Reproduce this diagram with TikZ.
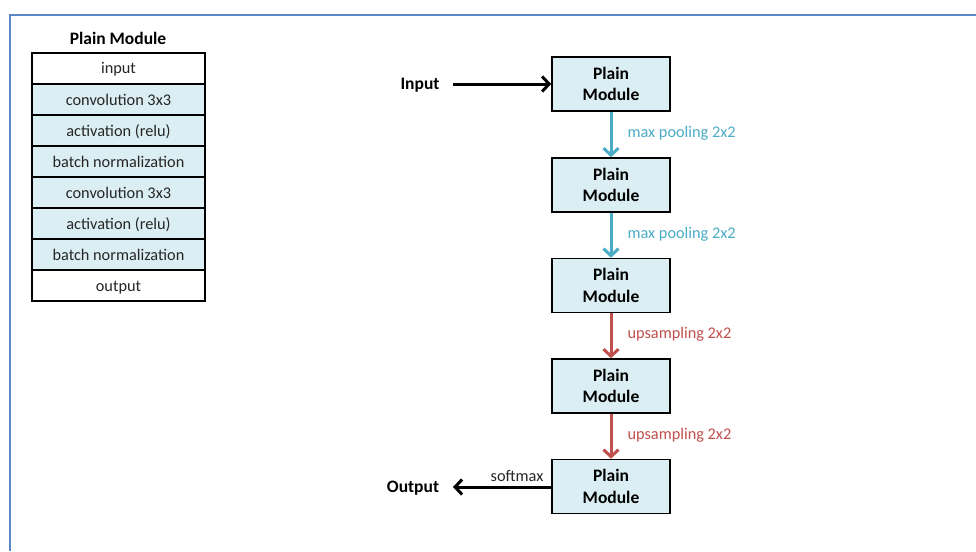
\documentclass[tikz,border=0pt]{standalone}
\usepackage{fontspec}
\setmainfont{Carlito}
\usetikzlibrary{arrows.meta}
\definecolor{frameblue}{HTML}{5B87C5}
\definecolor{cellfill}{HTML}{DBEEF3}
\definecolor{poolblue}{HTML}{4BACC6}
\definecolor{upred}{HTML}{C0504D}
\definecolor{txtgray}{HTML}{262626}
\tikzset{
  x=1pt, y=-1pt,
  cell/.style={draw=black, line width=1.6pt, minimum width=173pt, minimum height=31pt, inner sep=0pt, text height=13pt, text depth=2pt, font=\fontsize{16.3}{18}\selectfont, text=txtgray},
  modbox/.style={draw=black, line width=1.6pt, fill=cellfill, minimum width=118pt, minimum height=54pt, inner sep=0pt, align=center, font=\fontsize{17.5}{21.5}\selectfont\bfseries},
  blackarrow/.style={draw=black, line width=3pt, -{Straight Barb[length=7pt,width=15pt]}},
  poolarrow/.style={draw=poolblue, line width=3pt, -{Straight Barb[length=7pt,width=15pt]}},
  uparrow/.style={draw=upred, line width=3pt, -{Straight Barb[length=7pt,width=15pt]}},
  poollabel/.style={text=poolblue, anchor=west, font=\fontsize{16.3}{18}\selectfont},
  uplabel/.style={text=upred, anchor=west, font=\fontsize{16.3}{18}\selectfont},
  iolabel/.style={font=\fontsize{17.5}{20}\selectfont\bfseries, text height=12.5pt, text depth=3pt},
}
\begin{document}
\begin{tikzpicture}
\useasboundingbox (0,0) rectangle (976,551);
\fill[white] (0,0) rectangle (976,551);
% frame
\draw[frameblue, line width=2pt] (976,15) -- (10,15) -- (10,551);
% left table
\node[font=\fontsize{17.5}{20}\selectfont\bfseries] (title) at (118,38) {Plain Module};
\node[cell, fill=white] (c1) at (118.5,68.5) {input};
\node[cell, fill=cellfill] (c2) at (118.5,99.5) {convolution 3x3};
\node[cell, fill=cellfill] (c3) at (118.5,130.5) {activation (relu)};
\node[cell, fill=cellfill] (c4) at (118.5,161.5) {batch normalization};
\node[cell, fill=cellfill] (c5) at (118.5,192.5) {convolution 3x3};
\node[cell, fill=cellfill] (c6) at (118.5,223.5) {activation (relu)};
\node[cell, fill=cellfill] (c7) at (118.5,254.5) {batch normalization};
\node[cell, fill=white] (c8) at (118.5,285.5) {output};
% right chain
\node[modbox] (m1) at (611,84) {Plain\\Module};
\node[modbox] (m2) at (611,185) {Plain\\Module};
\node[modbox] (m3) at (611,285.5) {Plain\\Module};
\node[modbox] (m4) at (611,386) {Plain\\Module};
\node[modbox] (m5) at (611,486.5) {Plain\\Module};
\node[iolabel] (in) at (420,85) {Input};
\node[iolabel] (out) at (413,488) {Output};
\coordinate (inend) at (453,84);
\coordinate (outend) at (453,487);
\draw[blackarrow] (inend) -- (m1.west);
\draw[blackarrow] (m5.west |- outend) -- (outend);
\node[font=\fontsize{16.3}{18}\selectfont, text=txtgray] (sm) at (517,476) {softmax};
\draw[poolarrow] (m1.south) -- (m2.north);
\draw[poolarrow] (m2.south) -- (m3.north);
\draw[uparrow] (m3.south) -- (m4.north);
\draw[uparrow] (m4.south) -- (m5.north);
\node[poollabel] (l1) at (624,133) {max pooling 2x2};
\node[poollabel] (l2) at (624,234) {max pooling 2x2};
\node[uplabel] (l3) at (624,334) {upsampling 2x2};
\node[uplabel] (l4) at (624,435) {upsampling 2x2};
\end{tikzpicture}
\end{document}
